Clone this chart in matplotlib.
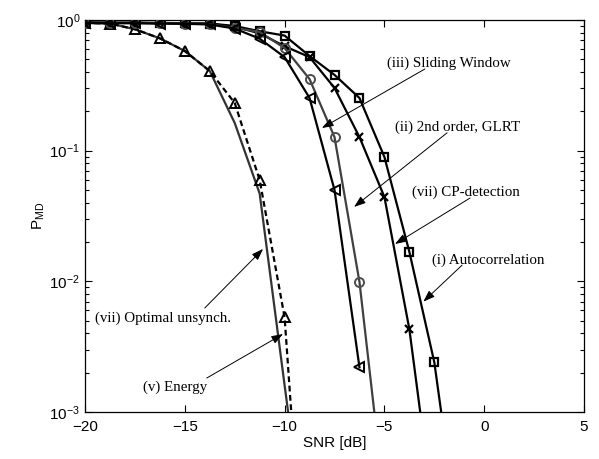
import matplotlib
matplotlib.use("Agg")
import matplotlib.pyplot as plt
from matplotlib.ticker import LogLocator, FixedLocator

plt.rcParams['font.family'] = ['Liberation Sans', 'DejaVu Sans']
plt.rcParams['mathtext.fontset'] = 'custom'
plt.rcParams['mathtext.rm'] = 'Liberation Sans'
plt.rcParams['mathtext.it'] = 'Liberation Sans:italic'
plt.rcParams['mathtext.bf'] = 'Liberation Sans:bold'

# ---- data ----
snr = [-20, -18.75, -17.5, -16.25, -15, -13.75, -12.5, -11.25, -10,
       -8.75, -7.5, -6.25, -5, -3.75, -2.5, -1.25]

autocorr = [0.96, 0.955, 0.955, 0.95, 0.945, 0.94, 0.90, 0.82, 0.76,
            0.53, 0.38, 0.253, 0.0895, 0.0168, 0.0024, 1.0e-4]
cp_det = [0.955, 0.95, 0.95, 0.945, 0.94, 0.935, 0.89, 0.79, 0.63,
          0.52, 0.302, 0.127, 0.0442, 0.0043, 1.5e-4]
glrt = [0.955, 0.95, 0.95, 0.945, 0.94, 0.93, 0.87, 0.81, 0.61,
        0.353, 0.127, 0.0099, 2.1e-4]
sliding = [0.95, 0.945, 0.945, 0.94, 0.935, 0.925, 0.86, 0.72, 0.52,
           0.253, 0.05, 0.0022]
energy = [0.95, 0.94, 0.85, 0.724, 0.579, 0.407, 0.232, 0.0597, 0.0053, 1.0e-5]
optimal = [0.95, 0.94, 0.85, 0.724, 0.579, 0.407, 0.163, 0.047, 0.0016, 5.6e-5]

x_ticks = [-20, -15, -10, -5, 0, 5]

# annotations: (label, text_x, text_y, start_x, start_y, tip_x, tip_y)
annots = [
    ("(iii) Sliding Window", -4.87, 0.469, -2.97, 0.422, -8.13, 0.149),
    ("(ii) 2nd order, GLRT", -4.47, 0.152, -1.86, 0.137, -6.52, 0.0371),
    ("(vii) CP-detection", -3.62, 0.0483, -0.71, 0.0434, -4.47, 0.0193),
    ("(i) Autocorrelation", -2.62, 0.01456, -1.11, 0.0133, -3.05, 0.00699),
    ("(vii) Optimal unsynch.", -19.5, 0.00524, -14.0, 0.00625, -11.08, 0.0177),
    ("(v) Energy", -17.09, 0.00155, -13.9, 0.00182, -10.08, 0.00395),
]

fig = plt.figure(figsize=(5.99, 4.59), dpi=100)
ax = fig.add_axes([0.1419, 0.1024, 0.8331, 0.854])

ax.plot(snr[:len(optimal)], optimal, '-', color='0.2', lw=1.6, zorder=3)
ax.plot(snr[:len(energy)], energy, '--', color='k', lw=1.6, dashes=(2.6, 1.6),
        marker='^', ms=7, mfc='none', mec='k', mew=1.4, zorder=4)
ax.plot(snr[:len(autocorr)], autocorr, '-', color='k', lw=1.6,
        marker='s', ms=5.5, mfc='none', mec='k', mew=1.6, zorder=4)
ax.plot(snr[:len(cp_det)], cp_det, '-', color='k', lw=1.6,
        marker='x', ms=6, mec='k', mew=1.6, zorder=4)
ax.plot(snr[:len(glrt)], glrt, '-', color='0.25', lw=1.6,
        marker='o', ms=6.5, mfc='none', mec='0.3', mew=1.4, zorder=4)
ax.plot(snr[:len(sliding)], sliding, '-', color='k', lw=1.6,
        marker='<', ms=6.5, mfc='none', mec='k', mew=1.4, zorder=4)

ax.set_yscale('log')
ax.set_xlim(-20, 5)
ax.set_ylim(1e-3, 1)
ax.xaxis.set_major_locator(FixedLocator(x_ticks))
ax.set_xticklabels(['\u221220', '\u221215', '\u221210', '\u22125', '0', '5'])
ax.yaxis.set_major_locator(LogLocator(base=10, numticks=10))
ax.yaxis.set_minor_locator(LogLocator(base=10, subs=range(2, 10), numticks=20))

ax.tick_params(which='both', direction='in', top=True, right=True,
               labelsize=11, width=0.8)
ax.tick_params(which='major', length=5)
ax.tick_params(which='minor', length=3)
ax.tick_params(axis='x', pad=6)
for s in ax.spines.values():
    s.set_linewidth(0.9)

ax.set_xlabel('SNR [dB]', fontsize=11, labelpad=1)
ax.set_ylabel('P$_{\\rm MD}$', fontsize=11, labelpad=2)

for lab, tx, ty, sx, sy, px, py in annots:
    ax.text(tx, ty, lab, ha='left', va='center', fontsize=10.8,
            family='Liberation Serif', zorder=6)
    ax.annotate('', xy=(px, py), xytext=(sx, sy),
                arrowprops=dict(arrowstyle='-|>,head_length=0.7,head_width=0.25',
                                lw=0.7, color='k', shrinkA=0, shrinkB=0,
                                mutation_scale=10), zorder=6)

fig.savefig('out.png', dpi=100)
